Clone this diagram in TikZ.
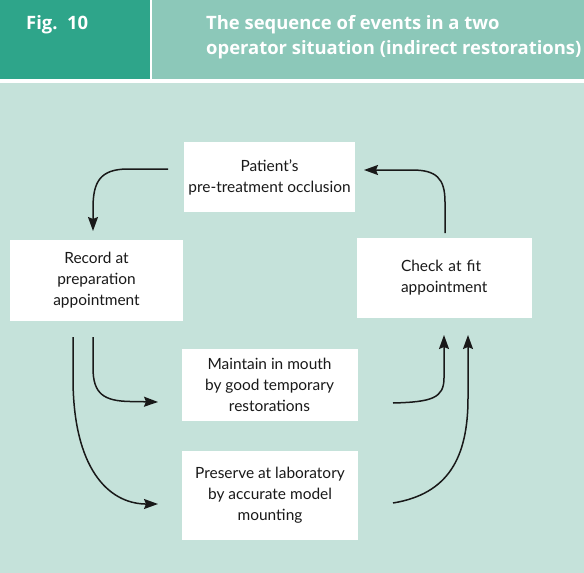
\documentclass[tikz,border=0pt]{standalone}
\usepackage{fontspec}
\setmainfont{Lato}
\newfontfamily\headfont{Open Sans}
\usetikzlibrary{arrows.meta}
\definecolor{darkteal}{RGB}{46,165,138}
\definecolor{headteal}{RGB}{140,200,185}
\definecolor{bgteal}{RGB}{197,226,218}
\tikzset{
  box/.style={fill=white, draw=none, inner sep=0pt, align=center, font=\fontsize{15.5}{21}\selectfont, text=black!90},
  flow/.style={line width=1.5bp, draw=black!90, -{Triangle[length=14bp,width=10bp,inset=2bp]}},
  headtxt/.style={text=white, font=\headfont\bfseries\fontsize{18.5}{25.5}\selectfont, inner sep=0pt, anchor=north west, align=left}
}
\begin{document}
\begin{tikzpicture}[x=1bp,y=-1bp]
\useasboundingbox (0,0) rectangle (584,573);
\fill[white] (0,0) rectangle (584,573);
\fill[darkteal] (0,0) rectangle (150,79);
\fill[headteal] (152,0) rectangle (584,79);
\fill[bgteal] (0,83) rectangle (584,573);
\node[headtxt] (fig) at (26,15) {Fig.\ \ 10};
\node[headtxt] (title) at (206,15) {The sequence of events in a two\\operator situation (indirect restorations)};

\node[box, minimum width=171bp, minimum height=69bp] (pat) at (269.5,177) {Patient’s\\pre-treatment occlusion};
\node[box, minimum width=173bp, minimum height=81bp] (rec) at (96.5,280.5) {Record at\\preparation\\appointment};
\node[box, minimum width=175bp, minimum height=80bp, align=left, text width=87bp] (chk) at (444.5,278) {Check at fit\\appointment};
\node[box, minimum width=176bp, minimum height=72bp] (mnt) at (269.5,385) {Maintain in mouth\\by good temporary\\restorations};
\node[box, minimum width=176bp, minimum height=89bp] (prs) at (270,495) {Preserve at laboratory\\by accurate model\\mounting};

\coordinate (a1s) at (168,169);
\coordinate (a1e) at (93,231);
\coordinate (a2s) at (445,233);
\coordinate (a2e) at (364,170);
\coordinate (a3s) at (93,337);
\coordinate (a3e) at (158,402);
\coordinate (a4s) at (73,337);
\coordinate (a4e) at (158,504);
\coordinate (a5s) at (393,403);
\coordinate (a5e) at (444,335);
\coordinate (a6s) at (393,503);
\coordinate (a6e) at (468,335);

\draw[flow] (a1s) -- (128,169) .. controls (100,169) and (93,182) .. (93,208) -- (a1e);
\draw[flow] (a2s) -- (445,202) .. controls (445,178) and (436,170) .. (412,170) -- (a2e);
\draw[flow] (a3s) -- (93,368) .. controls (93,394) and (104,401) .. (130,401.5) -- (a3e);
\draw[flow] (a4s) -- (73,378) .. controls (73,468) and (108,503) .. (145,504) -- (a4e);
\draw[flow] (a5s) .. controls (432,402) and (444,398) .. (444,378) -- (a5e);
\draw[flow] (a6s) .. controls (448,494) and (468,458) .. (468,398) -- (a6e);
\end{tikzpicture}
\end{document}
